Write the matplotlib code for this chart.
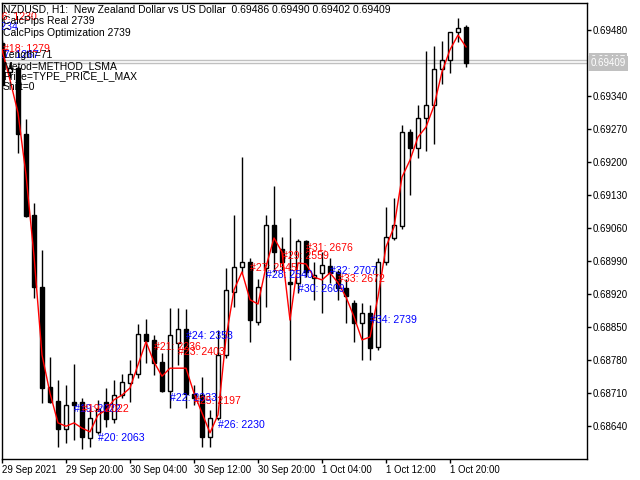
import numpy as np
import matplotlib
matplotlib.use("Agg")
import matplotlib.pyplot as plt
import matplotlib.transforms as mtransforms

# H1 bars, NZDUSD, starting 29 Sep 2021 12:00
opens = [0.69452, 0.69391, 0.69399, 0.69260, 0.69088, 0.68935, 0.68723, 0.68694, 0.68634, 0.68691,
         0.68691, 0.68615, 0.68628, 0.68691, 0.68655, 0.68706, 0.68732, 0.68751, 0.68836, 0.68823,
         0.68776, 0.68715, 0.68816, 0.68846, 0.68708, 0.68706, 0.68617, 0.68657, 0.68791, 0.68925,
         0.68978, 0.68988, 0.68861, 0.68975, 0.69067, 0.69016, 0.68946, 0.68944, 0.69033, 0.68954,
         0.68965, 0.68980, 0.68967, 0.68933, 0.68901, 0.68859, 0.68880, 0.68808, 0.68988, 0.69039,
         0.69065, 0.69264, 0.69230, 0.69293, 0.69321, 0.69397, 0.69416, 0.69476, 0.69486]
highs = [0.69459, 0.69412, 0.69404, 0.69291, 0.69113, 0.69014, 0.68787, 0.68738, 0.68727, 0.68772,
         0.68700, 0.68679, 0.68696, 0.68721, 0.68738, 0.68751, 0.68780, 0.68857, 0.68867, 0.68833,
         0.68795, 0.68891, 0.68891, 0.68889, 0.68727, 0.68744, 0.68674, 0.68844, 0.68975, 0.69088,
         0.69211, 0.68997, 0.68952, 0.69088, 0.69149, 0.69041, 0.69081, 0.69037, 0.69035, 0.68988,
         0.69009, 0.68997, 0.68971, 0.68952, 0.68908, 0.68901, 0.68897, 0.68997, 0.69105, 0.69124,
         0.69279, 0.69270, 0.69321, 0.69436, 0.69446, 0.69457, 0.69476, 0.69505, 0.69490]
lows = [0.69357, 0.69378, 0.69219, 0.69084, 0.68912, 0.68689, 0.68689, 0.68596, 0.68604, 0.68611,
        0.68592, 0.68596, 0.68624, 0.68638, 0.68647, 0.68700, 0.68691, 0.68742, 0.68774, 0.68749,
        0.68712, 0.68679, 0.68770, 0.68679, 0.68685, 0.68596, 0.68596, 0.68653, 0.68785, 0.68893,
        0.68965, 0.68819, 0.68855, 0.68893, 0.68967, 0.68971, 0.68780, 0.68922, 0.68956, 0.68908,
        0.68880, 0.68944, 0.68908, 0.68859, 0.68819, 0.68780, 0.68780, 0.68802, 0.68982, 0.69035,
        0.69058, 0.69130, 0.69209, 0.69224, 0.69238, 0.69366, 0.69389, 0.69455, 0.69402]
closes = [0.69363, 0.69399, 0.69260, 0.69086, 0.68935, 0.68721, 0.68691, 0.68634, 0.68685, 0.68685,
          0.68617, 0.68657, 0.68677, 0.68655, 0.68706, 0.68734, 0.68751, 0.68836, 0.68821, 0.68774,
          0.68715, 0.68833, 0.68846, 0.68708, 0.68700, 0.68617, 0.68657, 0.68791, 0.68929, 0.68978,
          0.68988, 0.68865, 0.68935, 0.69067, 0.69009, 0.68988, 0.68941, 0.69033, 0.68967, 0.68961,
          0.68982, 0.68965, 0.68933, 0.68916, 0.68859, 0.68880, 0.68806, 0.68988, 0.69041, 0.69067,
          0.69264, 0.69230, 0.69293, 0.69321, 0.69397, 0.69416, 0.69476, 0.69484, 0.69409]
# LSMA line (red)
lsma = [0.69438, 0.69374, 0.69304, 0.69173, 0.69001, 0.68791, 0.68710, 0.68647, 0.68640, 0.68647,
        0.68636, 0.68628, 0.68664, 0.68674, 0.68696, 0.68706, 0.68721, 0.68770, 0.68819, 0.68776,
        0.68746, 0.68763, 0.68763, 0.68763, 0.68710, 0.68668, 0.68626, 0.68664, 0.68827, 0.68929,
        0.68967, 0.68908, 0.68899, 0.68978, 0.69039, 0.69009, 0.68865, 0.68986, 0.68984, 0.68956,
        0.68950, 0.68965, 0.68944, 0.68914, 0.68872, 0.68823, 0.68829, 0.68914, 0.69020, 0.69062,
        0.69168, 0.69204, 0.69253, 0.69274, 0.69319, 0.69391, 0.69438, 0.69469, 0.69444]

bid = 0.69409
ask = 0.69417

# text objects on the chart
label_text = ["#16: 1230", "#16: 1234", "#18: 1279", "#17: 1267",
              "#19: 2022", "#19: 2022", "#20: 2063", "#21: 2236", "#22: 2333",
              "#23: 2403", "#24: 2353", "#25: 2197", "#26: 2230", "#27: 2545",
              "#28: 2540", "#29: 2559", "#30: 2609", "#31: 2676", "#32: 2707",
              "#33: 2672", "#34: 2739"]
label_bar = [-1.5, -3.9, 0.1, -1.3,
             9, 10, 12, 19, 21,
             22, 23, 24, 27, 31,
             33, 35, 37, 38, 41,
             42, 46]
label_price = [0.69508, 0.69486, 0.69440, 0.69427,
               0.68677, 0.68677, 0.68615, 0.68808, 0.68700,
               0.68797, 0.68831, 0.68694, 0.68643, 0.68975,
               0.68961, 0.69001, 0.68931, 0.69018, 0.68969,
               0.68952, 0.68865]
label_color = ["red", "blue", "red", "blue",
               "blue", "red", "blue", "red", "blue",
               "red", "blue", "red", "blue", "red",
               "blue", "red", "blue", "red", "blue",
               "red", "blue"]

header = ["NZDUSD, H1:  New Zealand Dollar vs US Dollar  0.69486 0.69490 0.69402 0.69409",
          "CalcPips Real 2739",
          "CalcPips Optimization 2739",
          "",
          "Length=71",
          "Metod=METHOD_LSMA",
          "Price=TYPE_PRICE_L_MAX",
          "Shift=0"]
header_base = [12.5, 24.3, 35.7, 47, 58.3, 68.8, 79.6, 90.3]  # baseline, px from top

ytick_vals = [0.68640, 0.68710, 0.68780, 0.68850, 0.68920, 0.68990, 0.69060,
              0.69130, 0.69200, 0.69270, 0.69340, 0.69480]
xtick_bars = [0, 8, 16, 24, 32, 40, 48, 56]
xtick_labels = ["29 Sep 2021", "29 Sep 20:00", "30 Sep 04:00", "30 Sep 12:00",
                "30 Sep 20:00", "1 Oct 04:00", "1 Oct 12:00", "1 Oct 20:00"]

plt.rcParams['font.family'] = ['Liberation Sans', 'DejaVu Sans']

fig = plt.figure(figsize=(6.4, 4.8), dpi=100)
ax = fig.add_axes([2 / 640, 21 / 480, 585 / 640, 456 / 480])

o = np.array(opens)
h = np.array(highs)
l = np.array(lows)
c = np.array(closes)
x = np.arange(len(o))
up = c >= o
dn = ~up

# wicks then bodies
ax.vlines(x, l, h, color='black', lw=1, zorder=2)
ax.bar(x[up], np.maximum(c[up] - o[up], 0.000005), bottom=o[up], width=0.6,
       facecolor='white', edgecolor='black', lw=1, zorder=3)
ax.bar(x[dn], np.maximum(o[dn] - c[dn], 0.000005), bottom=c[dn], width=0.6,
       facecolor='black', edgecolor='black', lw=1, zorder=3)

ax.plot(x, lsma, color='red', lw=1, zorder=4)

# bid / ask lines
ax.axhline(ask, color='#c0c0c0', lw=1, zorder=1)
ax.axhline(bid, color='#c0c0c0', lw=1, zorder=1)

for t, b, p, col in zip(label_text, label_bar, label_price, label_color):
    ax.text(b, p, t, color=col, fontsize=7.6, ha='left', va='center',
            clip_on=True, zorder=5)

ax.set_xlim(0, 73.125)
ax.set_ylim(0.685705, 0.69537)

ax.yaxis.tick_right()
ax.set_yticks(ytick_vals, labels=["%.5f" % v for v in ytick_vals])
ax.set_xticks(xtick_bars, labels=xtick_labels, ha='left')
ax.tick_params(axis='y', direction='out', length=3, pad=1, labelsize=7, width=1)
ax.tick_params(axis='x', direction='out', length=3, pad=1.5, labelsize=6.9, width=1)
for s in ax.spines.values():
    s.set_color('black')
    s.set_linewidth(1)

# price tags on the right: ask tag mostly hidden behind the bid tag
trans = mtransforms.blended_transform_factory(ax.transAxes, ax.transData)
ax.text(1.006, ask, "%.5f" % ask, transform=trans, color='white', fontsize=7,
        ha='left', va='center', clip_on=False, zorder=6,
        bbox=dict(boxstyle='square,pad=0.15', fc='#c0c0c0', ec='none'))
ax.text(1.006, bid, "%.5f" % bid, transform=trans, color='white', fontsize=7,
        ha='left', va='center', clip_on=False, zorder=7,
        bbox=dict(boxstyle='square,pad=0.25', fc='#c0c0c0', ec='none'))

for txt, yb in zip(header, header_base):
    fig.text(3 / 640, 1 - yb / 480, txt, fontsize=7.5, color='black',
             ha='left', va='baseline')

fig.savefig("out.png", dpi=100)
